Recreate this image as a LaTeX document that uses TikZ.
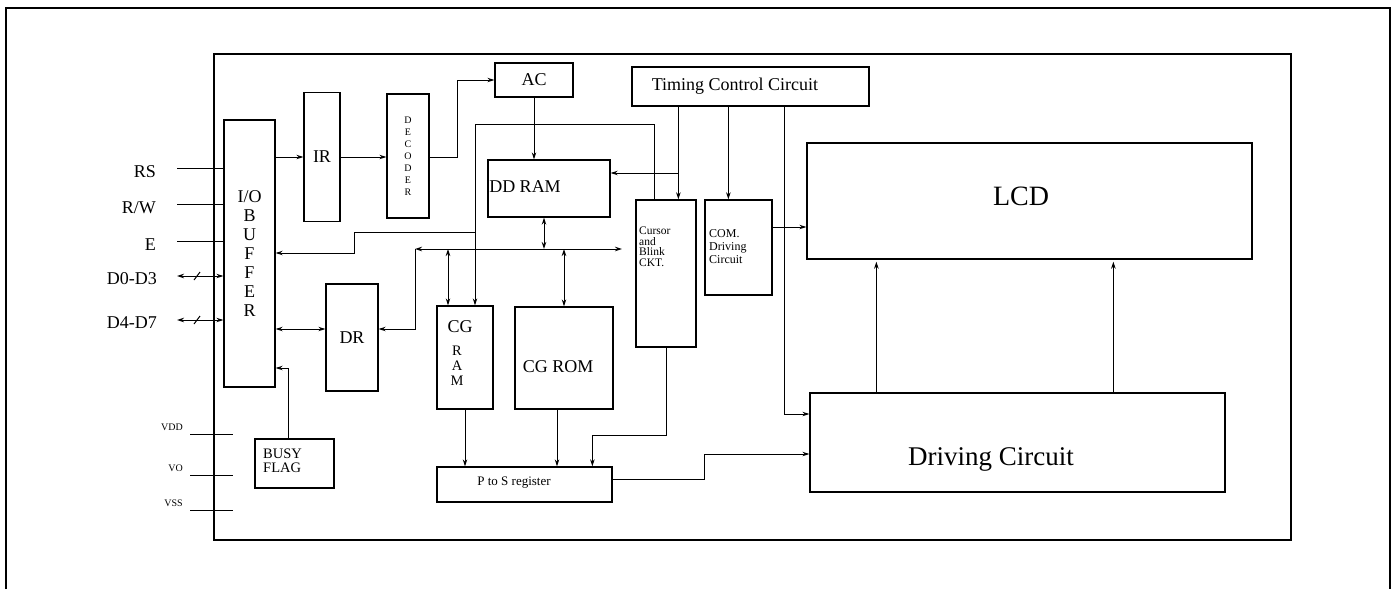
\documentclass[tikz,border=0pt]{standalone}
\usepackage{fontspec}
\setmainfont{Liberation Serif}
\usetikzlibrary{arrows.meta}

\tikzset{
  blocco/.style={draw, line width=1.3pt, inner sep=0pt},
  filo/.style={line width=1pt},
  freccia/.style={filo, -{Stealth[length=7pt,width=4.5pt]}},
  doppia/.style={filo, {Stealth[length=7pt,width=4.5pt]}-{Stealth[length=7pt,width=4.5pt]}},
  testo/.style={font=\fontsize{18}{19}\selectfont, inner sep=0pt},
  piccolo/.style={font=\fontsize{12}{13}\selectfont, inner sep=0pt, align=left},
}

\begin{document}
\begin{tikzpicture}[x=1pt, y=-1pt]
\useasboundingbox (0,0) rectangle (1396,589);
% Cornici
\draw[line width=1.5pt] (6,589) -- (6,8) -- (1390,8) -- (1390,589);
\draw[line width=1.2pt] (214,54) rectangle (1291,540);

% Blocchi
\node[blocco, testo, align=center, minimum width=51pt, minimum height=267pt] (iobuf) at (249.5,253.5) {I/O\\B\\U\\F\\F\\E\\R};
\node[blocco, testo, minimum width=36pt, minimum height=129pt] (ir) at (322,157) {IR};
\node[blocco, align=center, font=\fontsize{10}{12}\selectfont, minimum width=42pt, minimum height=124pt] (dec) at (408,156) {D\\E\\C\\O\\D\\E\\R};
\node[blocco, testo, minimum width=78pt, minimum height=34pt] (ac) at (534,80) {AC};
\node[blocco, minimum width=237pt, minimum height=39pt] (tcc) at (750.5,86.5) {};
\node[testo] (tccT) at (735,86) {Timing Control Circuit};
\node[blocco, minimum width=122pt, minimum height=57pt] (ddram) at (549,188.5) {};
\node[testo] (ddramT) at (525,187) {DD RAM};
\node[blocco, minimum width=60pt, minimum height=147pt] (curs) at (666,273.5) {};
\node[piccolo, anchor=west, font=\fontsize{11.5}{10.5}\selectfont] (cursT) at (639,247) {Cursor\\and\\Blink\\CKT.};
\node[blocco, minimum width=67pt, minimum height=95pt] (com) at (738.5,247.5) {};
\node[piccolo, anchor=west] (comT) at (709,247) {COM.\\Driving\\Circuit};
\node[blocco, minimum width=445pt, minimum height=116pt] (lcd) at (1029.5,201) {};
\node[font=\fontsize{28}{30}\selectfont, inner sep=0pt] (lcdT) at (1021,196) {LCD};
\node[blocco, minimum width=415pt, minimum height=99pt] (drv) at (1017.5,442.5) {};
\node[font=\fontsize{27}{30}\selectfont, inner sep=0pt] (drvT) at (991,459) {Driving Circuit};
\node[blocco, testo, minimum width=52pt, minimum height=107pt] (dr) at (352,337.5) {DR};
\node[blocco, minimum width=79pt, minimum height=49pt] (busy) at (294.5,463.5) {};
\node[anchor=west, align=left, font=\fontsize{14.5}{14}\selectfont, inner sep=0pt] (busyT) at (263,461) {BUSY\\FLAG};
\node[blocco, minimum width=56pt, minimum height=103pt] (cgram) at (465,357.5) {};
\node[testo] (cgramT) at (460,327) {CG};
\node[align=center, font=\fontsize{14.5}{15}\selectfont, inner sep=0pt] (cgramL) at (457,366) {R\\A\\M};
\node[blocco, minimum width=98pt, minimum height=102pt] (cgrom) at (564,358) {};
\node[testo] (cgromT) at (558,367) {CG ROM};
\node[blocco, minimum width=175pt, minimum height=35pt] (pts) at (524.5,484.5) {};
\node[font=\fontsize{13}{14}\selectfont, inner sep=0pt] (ptsT) at (514,483) {P to S register};

% Ingressi
\foreach \y/\t/\n in {168/RS/rs, 204/{R/W}/rw, 241/E/en} {
  \node[testo, anchor=east] (\n) at (156,\y+4) {\t};
  \draw[filo] (177,\y) -- (iobuf.west |- 0,\y);
}
\foreach \y/\t/\n in {276/D0-D3/d03, 320/D4-D7/d47} {
  \node[testo, anchor=east] (\n) at (157,\y+3) {\t};
  \draw[doppia] (177,\y) -- (iobuf.west |- 0,\y);
  \draw[filo] (194,\y+4) -- (200,\y-4);
}
\foreach \y/\t/\n in {434/VDD/vdd, 475/VO/vo, 510/VSS/vss} {
  \node[font=\fontsize{10}{10}\selectfont, inner sep=0pt, anchor=east] (\n) at (183,\y-7) {\t};
  \draw[filo] (190,\y) -- (233,\y);
}

% IR, decoder, AC
\draw[freccia] (iobuf.east |- ir.west) -- (ir.west);
\draw[freccia] (ir.east) -- (dec.west |- ir.east);
\draw[freccia] (dec.east |- ir.east) -- ++(28,0) |- (ac.west);
\draw[freccia] (ac.south) -- (ac.south |- ddram.north);

% Timing
\draw[freccia] ([xshift=47pt]tcc.south west) coordinate (t1) -- (t1 |- curs.north);
\draw[freccia] (t1 |- 0,173) -- (ddram.east |- 0,173);
\draw[freccia] ([xshift=97pt]tcc.south west) coordinate (t2) -- (t2 |- com.north);
\draw[freccia] ([xshift=153pt]tcc.south west) |- ([yshift=28.5pt]drv.west);
\draw[freccia] (com.east |- 0,227) -- (lcd.west |- 0,227);

% Pilotaggio LCD
\foreach \dx in {67,304}
  \draw[freccia, shorten >=2pt] ([xshift=\dx pt]drv.north west) coordinate (u) -- (u |- lcd.south);
\draw[freccia] ([yshift=5.5pt]pts.east) -- ++(92,0) |- ([yshift=-11.5pt]drv.west);

% Registro P/S
\draw[freccia] (curs.south) |- ([xshift=156pt,yshift=31pt]pts.north west) -- ([xshift=156pt]pts.north west);
\draw[freccia] (cgram.south) -- (cgram.south |- pts.north);
\draw[freccia] ([xshift=-7pt]cgrom.south) coordinate (c1) -- (c1 |- pts.north);

% Bus dati
\coordinate (busL) at (415,249);
\coordinate (busR) at (622,249);
\draw[doppia] (busL) -- (busR);
\draw[doppia] ([xshift=-5pt]ddram.south) coordinate (b1) -- (b1 |- busL);
\draw[doppia] ([xshift=-17pt]cgram.north) coordinate (b2) -- (b2 |- busL);
\draw[doppia] (cgrom.north) -- (cgrom.north |- busL);
\draw[freccia] (busL) |- ([yshift=8.5pt]dr.east);
\draw[doppia] ([yshift=8.5pt]dr.west) coordinate (b3) -- (b3 -| iobuf.east);

% Ritorno cursore
\coordinate (r1) at ([xshift=10pt]cgram.north);
\draw[freccia] ([xshift=19pt]curs.north west) |- (r1 |- 0,124) -- (r1);
\draw[freccia] (r1 |- 0,232) -| (354,253) -- (iobuf.east |- 0,253);
\draw[freccia] ([xshift=-6.5pt]busy.north) |- (iobuf.east |- 0,368);
\end{tikzpicture}
\end{document}
